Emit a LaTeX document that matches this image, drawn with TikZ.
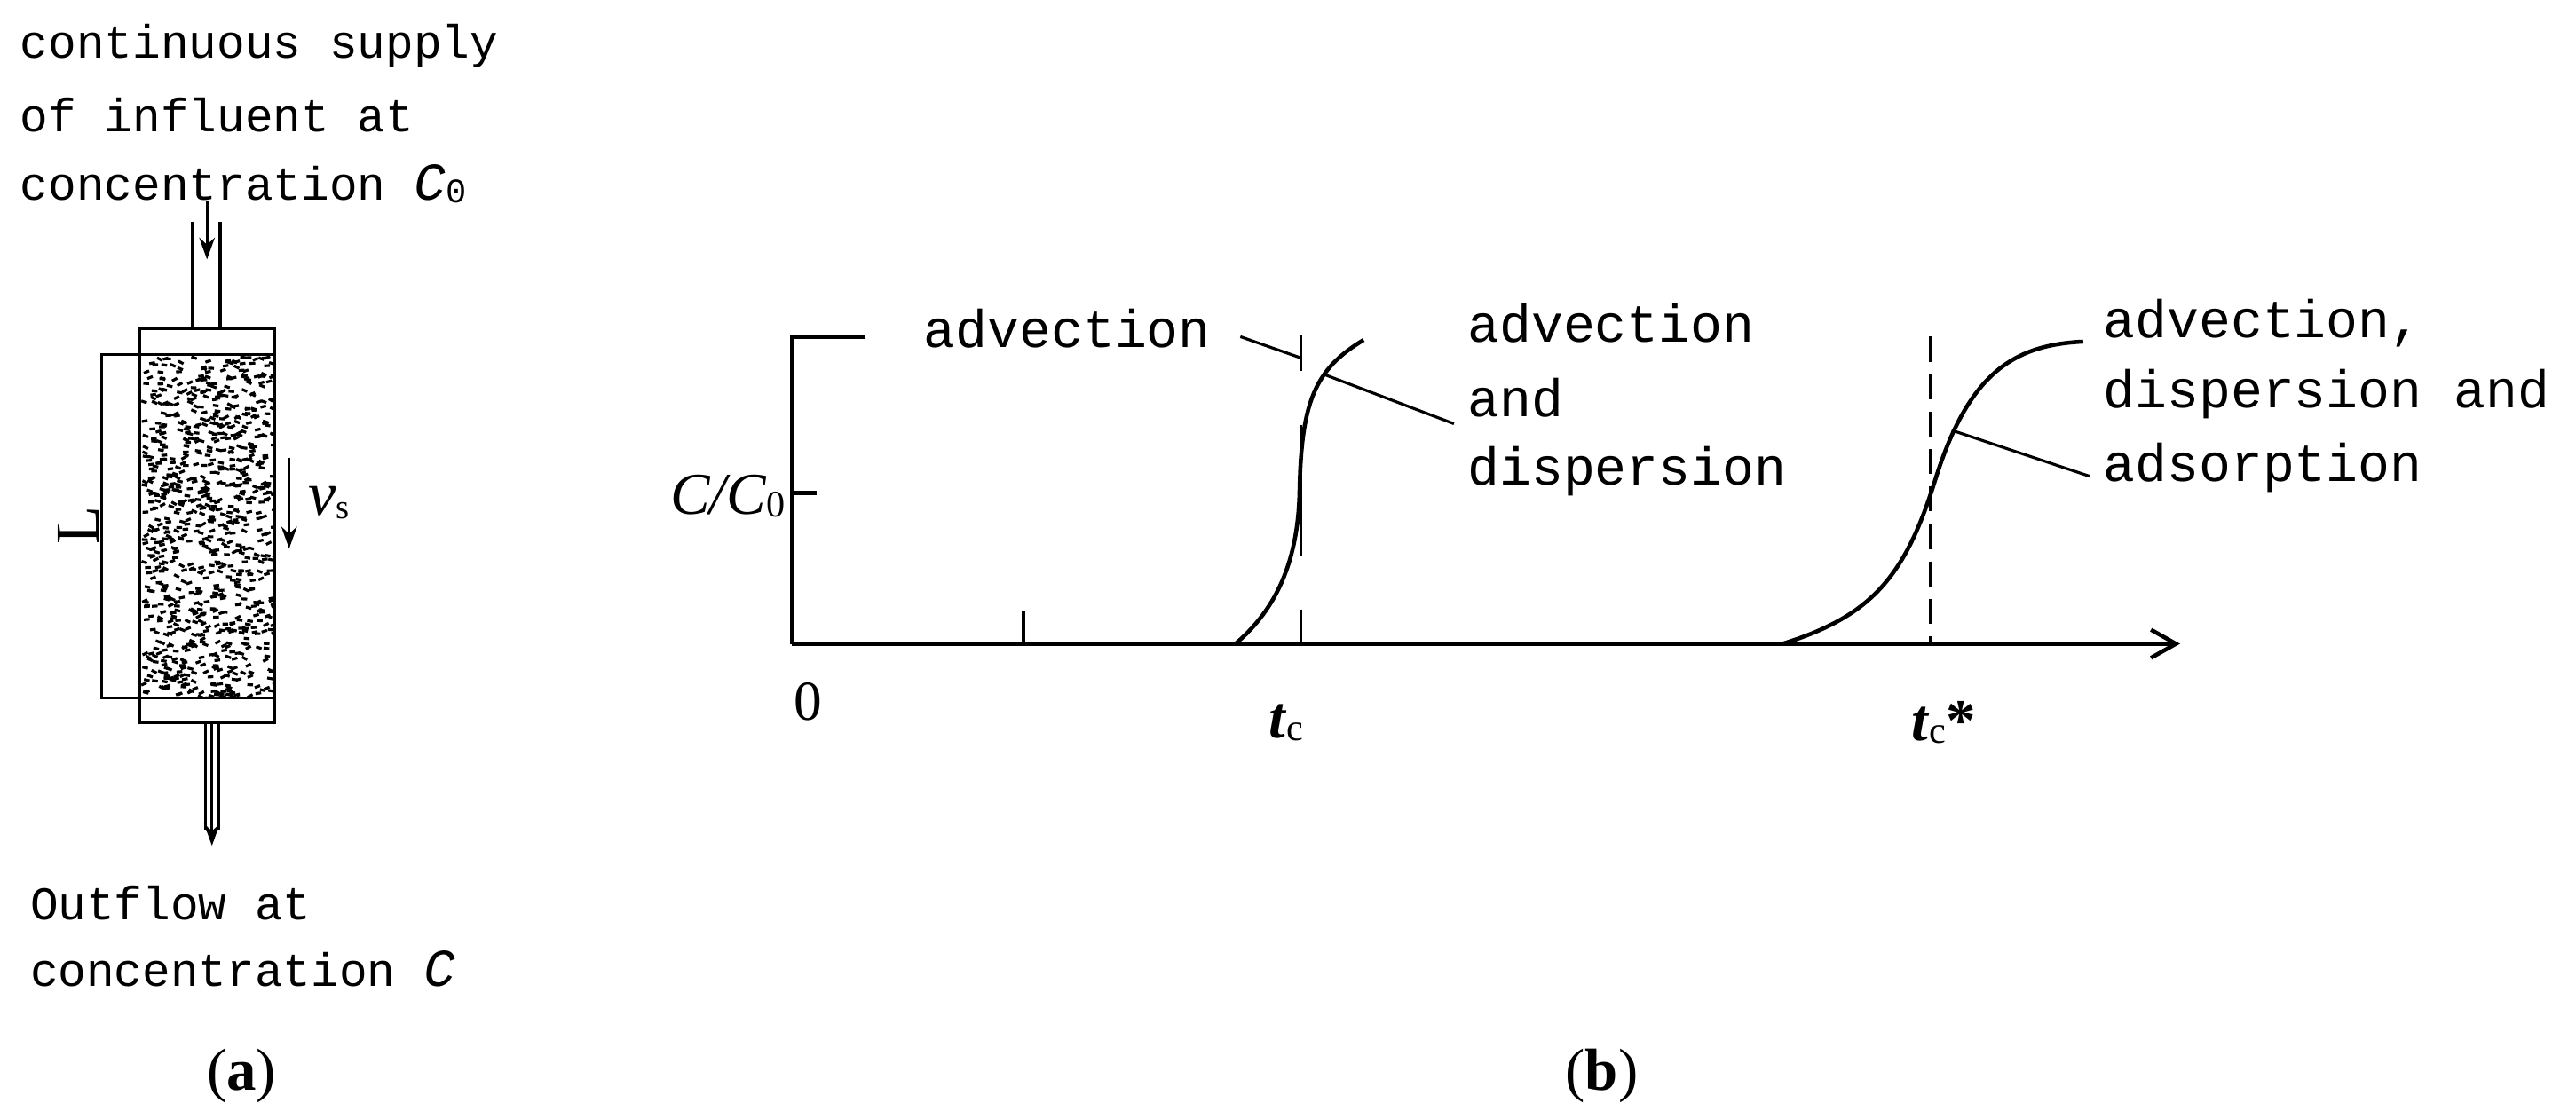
\documentclass[tikz,border=0pt]{standalone}
\usepackage{fontspec}
\setmainfont{Liberation Serif}
\newfontfamily\mono{Liberation Mono}
\usetikzlibrary{arrows.meta}
\begin{document}
\begin{tikzpicture}[x=0.0185cm,y=-0.0185cm,
  lab/.style={font=\mono\fontsize{15}{15}\selectfont,anchor=west,inner sep=0},
  glab/.style={font=\mono\fontsize{17}{17}\selectfont,anchor=west,inner sep=0},
  ital/.style={font=\fontsize{20}{20}\selectfont,inner sep=0},
  ln/.style={line width=1.3pt},
  thin/.style={line width=0.9pt},
  arr/.style={line width=0.9pt,-{Stealth[length=7pt,width=5pt]}}]
\useasboundingbox (0,0) rectangle (1568,681);
% ---------- (a) ----------
\node[lab] (t1) at (12,28) {continuous supply};
\node[lab] (t2) at (12,70) {of influent at};
\node[lab] (t3) at (12,112) {concentration \textit{\fontsize{17}{17}\selectfont C}\raisebox{-1pt}{\fontsize{11}{11}\selectfont 0}};
\coordinate (ia) at (126,122); \coordinate (ib) at (126,158);
\draw[arr] (ia) -- (ib);
\draw[thin] (117,135) -- (117,200) (134,135) -- (134,200);
\draw[thin] (85,200) rectangle (167,216);
\draw[thin] (85,425) rectangle (167,440);
\draw[thin] (85,216) rectangle (167,425);
\pgfmathsetseed{7}
\begin{scope}
\clip (86,217) rectangle (166,424);
\foreach \i in {1,...,900}{
  \pgfmathsetmacro{\px}{86+80*rnd}
  \pgfmathsetmacro{\py}{217+208*rnd}
  \pgfmathsetmacro{\ang}{-30+60*rnd}
  \draw[line width=0.9pt] (\px,\py) -- ++(\ang:3.5);
}
\end{scope}
\draw[thin] (125,440) -- (125,505) (133,440) -- (133,505);
\coordinate (oa) at (129,440); \coordinate (ob) at (129,515);
\draw[arr] (oa) -- (ob);
\draw[thin] (85,216) -- (62,216) -- (62,425) -- (85,425);
\node[ital,rotate=90] (L) at (48,320) {L};
\coordinate (va) at (176,279); \coordinate (vb) at (176,334);
\draw[arr] (va) -- (vb);
\node[inner sep=0] (vs) at (200,306) {\fontsize{20}{20}\selectfont\textit{v}\raisebox{-1pt}{\fontsize{11}{11}\selectfont s}};
\node[lab] (o1) at (18,550) {Outflow at};
\node[lab] (o2) at (18,590) {concentration \textit{\fontsize{17}{17}\selectfont C}};
\node[inner sep=0,font=\fontsize{19}{19}\selectfont] (pa) at (147,655) {(\textbf{a})};
% ---------- (b) ----------
\coordinate (O) at (482,392);
\coordinate (xe) at (1327,392);
\coordinate (yt) at (482,205);
\draw[ln,-{Straight Barb[length=8pt,width=9pt]}] (O) -- (xe);
\draw[ln] (527,205) -- (yt) -- (O);
\draw[ln] (482,300) -- (497,300);
\draw[ln] (623,392) -- (623,372);
\node[inner sep=0] (cc) at (443,302) {\fontsize{19}{19}\selectfont\textit{C/C}\raisebox{-1pt}{\fontsize{12}{12}\selectfont 0}};
\node[inner sep=0,font=\fontsize{18}{18}\selectfont] (zero) at (492,427) {0};
\node[inner sep=0] (tc) at (783,440) {\fontsize{19}{19}\selectfont\textbf{\textit{t}}\raisebox{-1pt}{\fontsize{12}{12}\selectfont c}};
\node[inner sep=0] (tcs) at (1183,440) {\fontsize{19}{19}\selectfont\textbf{\textit{t}}\raisebox{-1pt}{\fontsize{12}{12}\selectfont c}\textbf{*}};
\draw[thin] (792,204) -- (792,226) (792,259) -- (792,338) (792,371) -- (792,392);
\draw[thin,dash pattern=on 8pt off 4pt] (1175,205) -- (1175,392);
% curve 1
\coordinate (c1a) at (752,392);
\coordinate (c1b) at (791,300);
\coordinate (c1c) at (830,207);
\draw[ln] (c1a) .. controls (778,370) and (790,340) .. (c1b)
          .. controls (792,245) and (800,225) .. (c1c);
% curve 2
\coordinate (c2a) at (1085,392);
\coordinate (c2b) at (1178,292);
\coordinate (c2c) at (1268,208);
\draw[ln] (c2a) .. controls (1140,375) and (1160,350) .. (c2b)
          .. controls (1198,228) and (1225,210) .. (c2c);
% labels
\node[glab] (adv) at (562,200) {advection};
\coordinate (l1a) at (755,205); \coordinate (l1b) at (792,218);
\draw[thin] (l1a) -- (l1b);
\node[glab] (ad1) at (893,197) {advection};
\node[glab] (ad2) at (893,242) {and};
\node[glab] (ad3) at (893,287) {dispersion};
\coordinate (l2a) at (806,228); \coordinate (l2b) at (885,258);
\draw[thin] (l2a) -- (l2b);
\node[glab] (b1) at (1280,197) {advection,};
\node[glab] (b2) at (1280,240) {dispersion and};
\node[glab] (b3) at (1280,285) {adsorption};
\coordinate (l3a) at (1188,262); \coordinate (l3b) at (1272,290);
\draw[thin] (l3a) -- (l3b);
\node[inner sep=0,font=\fontsize{19}{19}\selectfont] (pb) at (975,655) {(\textbf{b})};
\end{tikzpicture}
\end{document}
